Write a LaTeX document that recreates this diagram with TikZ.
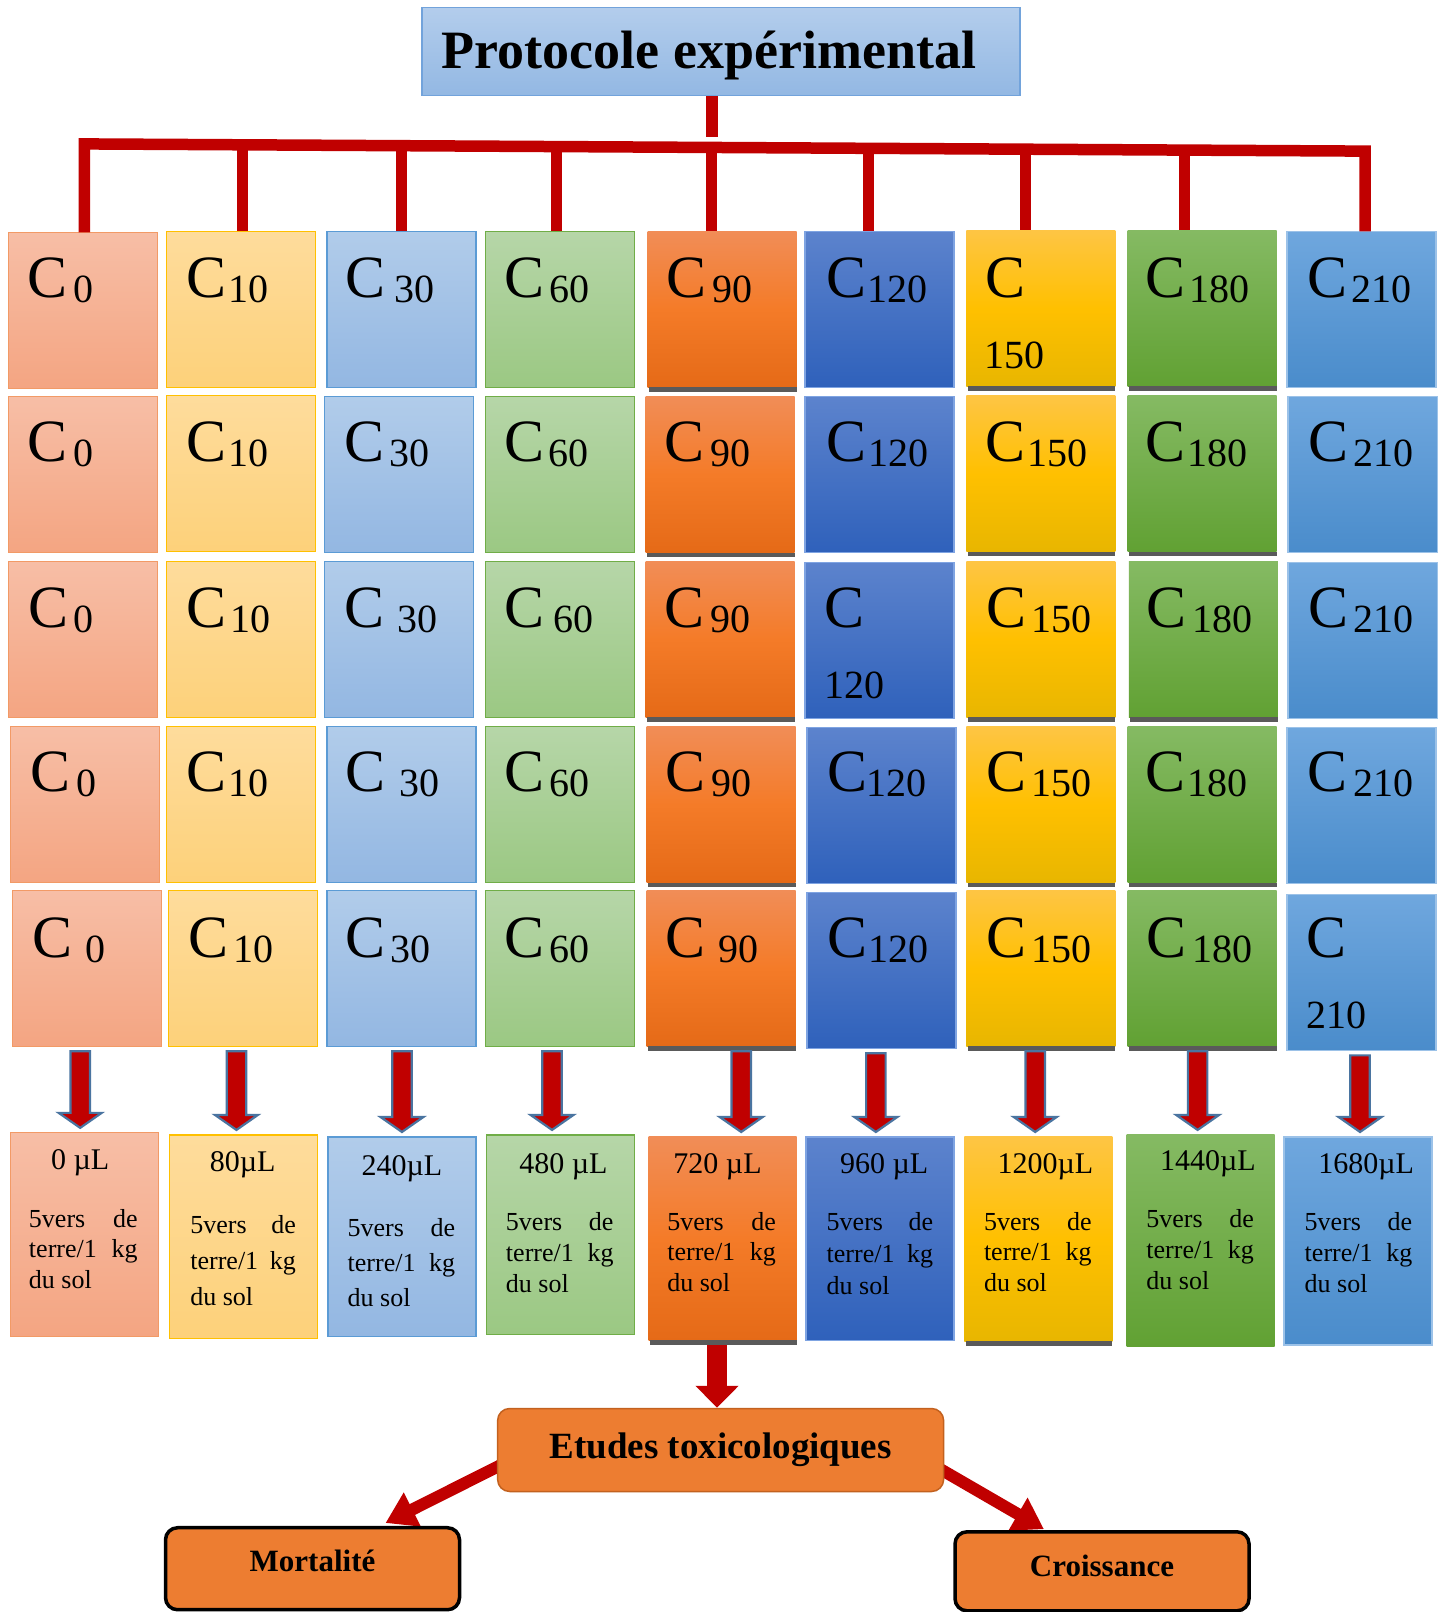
\documentclass[tikz,border=0pt]{standalone}
\usepackage{fontspec}
\setmainfont{Liberation Serif}
\usetikzlibrary{arrows.meta,calc,backgrounds}
\definecolor{redL}{HTML}{C00000}
\definecolor{steel}{HTML}{4A74A0}
\definecolor{shadowc}{HTML}{5A5A5A}
\definecolor{titlet}{HTML}{B3CDEC}
\definecolor{titleb}{HTML}{93B8E3}
\definecolor{titled}{HTML}{72A3DB}
\definecolor{orangeE}{HTML}{ED7D31}
\definecolor{orangeD}{HTML}{C3611F}
\definecolor{c0t}{HTML}{F7BEA6}\definecolor{c0b}{HTML}{F4A582}\definecolor{c0d}{HTML}{F29A66}
\definecolor{c1t}{HTML}{FEDC9C}\definecolor{c1b}{HTML}{FDD17A}\definecolor{c1d}{HTML}{FFC000}
\definecolor{c2t}{HTML}{B1CCEA}\definecolor{c2b}{HTML}{93B7E2}\definecolor{c2d}{HTML}{5B9BD5}
\definecolor{c3t}{HTML}{B6D6A8}\definecolor{c3b}{HTML}{9BC883}\definecolor{c3d}{HTML}{70AD47}
\definecolor{c4t}{HTML}{F18D57}\definecolor{c4m}{HTML}{F47B28}\definecolor{c4b}{HTML}{E56A17}
\definecolor{c5t}{HTML}{5C83CD}\definecolor{c5b}{HTML}{2F61BB}\definecolor{c5d}{HTML}{7FA4E2}
\definecolor{c6t}{HTML}{FEC544}\definecolor{c6m}{HTML}{FFC000}\definecolor{c6b}{HTML}{E8B600}
\definecolor{c7t}{HTML}{85BA63}\definecolor{c7b}{HTML}{61A133}
\definecolor{c8t}{HTML}{6FA7DE}\definecolor{c8b}{HTML}{4A8CCB}\definecolor{c8d}{HTML}{9CC2E8}
\newcommand\cel[4]{\node[cellbase,#4] (#1) at (#2,#3) {};}
\newcommand\celS[4]{\node[cellbase,#4] (#1) at (#2,#3) {};
  \fill[shadowc] ([xshift=1.5pt]#1.south west) rectangle ([yshift=-4.5pt]#1.south east);}
\newcommand\clab[5]{\node[lblC] (#1C) at (#2,#4) {C};\node[lblN] (#1N) at (#3,#4+5) {#5};}
\newcommand\clabw[5]{\node[lblC] (#1C) at (#2,#4) {C};\node[lblN] (#1N) at (#3,#4+69) {#5};}
\newcommand\dose[8]{%
  \node[doselbl] (#1L) at (#2,#3) {#4};
  \node[dosetxt,anchor=base west] (#1a) at (#5,#7) {5vers};
  \node[dosetxt,anchor=base east] (#1b) at (#6,#7) {de};
  \node[dosetxt,anchor=base west] (#1c) at (#5,#7+#8) {terre/1};
  \node[dosetxt,anchor=base east] (#1d) at (#6,#7+#8) {kg};
  \node[dosetxt,anchor=base west] (#1e) at (#5,#7+2*#8) {du sol};}
\newcommand\blk[3]{%
  \draw[blockarr] let \p1=(#1.south -| #3), \p2=(#2.north -| #3) in
   (\x1-9.75pt,\y1-5pt) -- (\x1+9.75pt,\y1-5pt) -- (\x1+9.75pt,\y2+20pt) -- (\x1+21.5pt,\y2+20pt)
   -- (\x1,\y2+5pt) -- (\x1-21.5pt,\y2+20pt) -- (\x1-9.75pt,\y2+20pt) -- cycle;}
\begin{document}
\begin{tikzpicture}[x=1.028pt,y=-1.028pt,
  cellbase/.style={rectangle,inner sep=0pt,outer sep=0pt,anchor=north west,
    minimum width=149pt,minimum height=156pt,line width=1.2pt},
  doseb/.style={cellbase,minimum width=148pt},
  k0/.style={top color=c0t,bottom color=c0b,draw=c0d},
  k1/.style={top color=c1t,bottom color=c1b,draw=c1d},
  k2/.style={top color=c2t,bottom color=c2b,draw=c2d},
  k3/.style={top color=c3t,bottom color=c3b,draw=c3d},
  k4/.style={top color=c4t,bottom color=c4b,middle color=c4m},
  k5/.style={top color=c5t,bottom color=c5b,draw=c5d},
  k6/.style={top color=c6t,bottom color=c6b,middle color=c6m},
  k7/.style={top color=c7t,bottom color=c7b},
  k8/.style={top color=c8t,bottom color=c8b,draw=c8d},
  lblC/.style={anchor=base west,inner sep=0pt,font=\fontsize{60}{60}\selectfont},
  lblN/.style={anchor=base west,inner sep=0pt,font=\fontsize{40}{40}\selectfont},
  doselbl/.style={anchor=base,inner sep=0pt,font=\fontsize{30}{30}\selectfont},
  dosetxt/.style={inner sep=0pt,font=\fontsize{26}{26}\selectfont},
  redline/.style={draw=redL,line width=11.5pt,line join=miter,line cap=butt},
  blockarr/.style={fill=redL,draw=steel,line width=2.2pt,line join=miter},
  redarrow/.style={draw=redL,line width=12pt,-{Triangle[length=30pt,width=36pt]}},
  bigarrow/.style={draw=redL,line width=20pt,-{Triangle[length=22pt,width=42pt]}},
  etud/.style={rectangle,rounded corners=12pt,fill=orangeE,draw=orangeD,line width=1.5pt,
    minimum width=446pt,minimum height=83pt,inner sep=0pt,font=\fontsize{37}{37}\selectfont\bfseries},
  res/.style={rectangle,rounded corners=12pt,fill=orangeE,draw=black,line width=3.5pt,
    minimum width=294pt,inner sep=0pt},
  restxt/.style={anchor=base,inner sep=0pt,font=\fontsize{31}{31}\selectfont\bfseries}]
\useasboundingbox (0,0) rectangle (1402.7,1568.1);

% title
\node[rectangle,anchor=north west,inner sep=0pt,minimum width=598pt,minimum height=87.4pt,
  top color=titlet,bottom color=titleb,draw=titled,line width=1.2pt] (title) at (410,7) {};
\node[anchor=base west,inner sep=0pt,font=\fontsize{54}{54}\selectfont\bfseries] (ttxt) at (429.5,66.5) {Protocole expérimental};

% row 1
\cel{r1c0}{8}{226}{k0}\cel{r1c1}{162}{225}{k1}\cel{r1c2}{318}{225}{k2}\cel{r1c3}{472}{225}{k3}
\celS{r1c4}{630}{225}{k4}\cel{r1c5}{783}{225}{k5}\celS{r1c6}{940}{224}{k6}\celS{r1c7}{1097}{224}{k7}\cel{r1c8}{1252}{225}{k8}
% row 2
\cel{r2c0}{8}{386}{k0}\cel{r2c1}{162}{385}{k1}\cel{r2c2}{316}{386}{k2}\cel{r2c3}{472}{386}{k3}
\celS{r2c4}{628}{386}{k4}\cel{r2c5}{783}{386}{k5}\celS{r2c6}{940}{385}{k6}\celS{r2c7}{1097}{385}{k7}\cel{r2c8}{1253}{386}{k8}
% row 3
\cel{r3c0}{8}{546}{k0}\cel{r3c1}{162}{546}{k1}\cel{r3c2}{316}{546}{k2}\cel{r3c3}{472}{546}{k3}
\celS{r3c4}{628}{546}{k4}\cel{r3c5}{783}{547}{k5}\celS{r3c6}{940}{546}{k6}\celS{r3c7}{1098}{546}{k7}\cel{r3c8}{1253}{547}{k8}
% row 4
\cel{r4c0}{10}{707}{k0}\cel{r4c1}{162}{707}{k1}\cel{r4c2}{318}{707}{k2}\cel{r4c3}{472}{707}{k3}
\celS{r4c4}{629}{707}{k4}\cel{r4c5}{785}{708}{k5}\celS{r4c6}{940}{707}{k6}\celS{r4c7}{1097}{707}{k7}\cel{r4c8}{1252}{708}{k8}
% row 5
\cel{r5c0}{12}{866}{k0}\cel{r5c1}{164}{866}{k1}\cel{r5c2}{318}{866}{k2}\cel{r5c3}{472}{866}{k3}
\celS{r5c4}{629}{866}{k4}\cel{r5c5}{785}{868}{k5}\celS{r5c6}{940}{866}{k6}\celS{r5c7}{1097}{866}{k7}\cel{r5c8}{1252}{870}{k8}

% labels row 1
\clab{r1c0}{26.3}{71.5}{289}{0}\clab{r1c1}{181.3}{222.5}{289}{10}\clab{r1c2}{336.3}{383.5}{289}{30}
\clab{r1c3}{490.3}{534.5}{289}{60}\clab{r1c4}{648.3}{692.5}{289}{90}\clab{r1c5}{803.3}{843.5}{289}{120}
\clabw{r1c6}{958.3}{957.5}{289}{150}\clab{r1c7}{1114.3}{1156.5}{289}{180}\clab{r1c8}{1271.3}{1314.5}{289}{210}
% labels row 2
\clab{r2c0}{26.3}{71.5}{449}{0}\clab{r2c1}{181.3}{222.5}{449}{10}\clab{r2c2}{335.3}{378.5}{449}{30}
\clab{r2c3}{490.3}{533.5}{449}{60}\clab{r2c4}{646.3}{690.5}{449}{90}\clab{r2c5}{803.3}{844.5}{449}{120}
\clab{r2c6}{958.3}{999.5}{449}{150}\clab{r2c7}{1114.3}{1154.5}{449}{180}\clab{r2c8}{1272.3}{1316.5}{449}{210}
% labels row 3
\clab{r3c0}{27.3}{71.5}{610}{0}\clab{r3c1}{181.3}{224.5}{610}{10}\clab{r3c2}{335.3}{386.5}{610}{30}
\clab{r3c3}{490.3}{538.5}{610}{60}\clab{r3c4}{646.3}{690.5}{610}{90}\clabw{r3c5}{802.3}{801.5}{610}{120}
\clab{r3c6}{959.3}{1003.5}{610}{150}\clab{r3c7}{1115.3}{1159.5}{610}{180}\clab{r3c8}{1272.3}{1316.5}{610}{210}
% labels row 4
\clab{r4c0}{29.3}{74.5}{770}{0}\clab{r4c1}{181.3}{222.5}{770}{10}\clab{r4c2}{336.3}{388.5}{770}{30}
\clab{r4c3}{490.3}{534.5}{770}{60}\clab{r4c4}{647.3}{691.5}{770}{90}\clab{r4c5}{804.3}{842.5}{770}{120}
\clab{r4c6}{959.3}{1003.5}{770}{150}\clab{r4c7}{1114.3}{1154.5}{770}{180}\clab{r4c8}{1271.3}{1316.5}{770}{210}
% labels row 5
\clab{r5c0}{31.3}{82.5}{931}{0}\clab{r5c1}{183.3}{226.5}{931}{10}\clab{r5c2}{336.3}{379.5}{931}{30}
\clab{r5c3}{490.3}{534.5}{931}{60}\clab{r5c4}{647.3}{698.5}{931}{90}\clab{r5c5}{804.3}{844.5}{931}{120}
\clab{r5c6}{959.3}{1003.5}{931}{150}\clab{r5c7}{1115.3}{1159.5}{931}{180}\clabw{r5c8}{1270.3}{1270.5}{931}{210}

% tree
\coordinate (t0) at (82,140);
\coordinate (t1) at (236,140.87);
\coordinate (t2) at (391,141.74);
\coordinate (t3) at (541,142.58);
\coordinate (t4) at (692,143.43);
\coordinate (t5) at (845,144.29);
\coordinate (t6) at (998,145.15);
\coordinate (t7) at (1152,146.01);
\coordinate (t8) at (1328,147);
\coordinate (stemEnd) at (692.5,133.5);
\draw[redline,line width=12pt] (title.south -| stemEnd) -- (stemEnd);
\draw[redline] (r1c0.north -| t0) -- (t0) -- (t8) -- (r1c8.north -| t8);
\foreach \i in {1,...,7}{\draw[redline,line width=11pt] (t\i) -- (r1c\i.north -| t\i);}

% dose boxes
\node[doseb,k0,minimum height=203.5pt] (q0) at (10,1102) {};
\node[doseb,k1,minimum height=203.5pt] (q1) at (165,1104) {};
\node[doseb,k2,minimum height=199.5pt] (q2) at (319,1106) {};
\node[doseb,k3,minimum height=199.5pt] (q3) at (473,1104) {};
\node[doseb,k4,minimum height=203.5pt] (q4) at (631,1106) {};
\fill[shadowc] ([xshift=1.5pt]q4.south west) rectangle ([yshift=-4.5pt]q4.south east);
\node[doseb,k5,minimum height=203.5pt] (q5) at (784,1106) {};
\node[doseb,k6,minimum height=204.5pt] (q6) at (938,1106) {};
\fill[shadowc] ([xshift=1.5pt]q6.south west) rectangle ([yshift=-4.5pt]q6.south east);
\node[doseb,k7,minimum height=212pt] (q7) at (1096,1104) {};
\node[doseb,k8,minimum height=208pt] (q8) at (1249,1106) {};

\dose{q0}{78}{1138}{0 µL}{28}{134}{1194}{29.5}
\dose{q1}{236}{1140}{80µL}{185}{288}{1200}{35}
\dose{q2}{391}{1143}{240µL}{338}{443}{1203}{34}
\dose{q3}{548}{1142}{480 µL}{492}{597}{1197}{30}
\dose{q4}{698}{1142}{720 µL}{649}{755}{1197}{29.5}
\dose{q5}{860}{1142}{960 µL}{804}{908}{1197}{31}
\dose{q6}{1017}{1142}{1200µL}{957}{1062}{1197}{29.5}
\dose{q7}{1175}{1139}{1440µL}{1115}{1220}{1194}{30}
\dose{q8}{1329}{1142}{1680µL}{1269}{1374}{1197}{30}

% block arrows
\coordinate (b0) at (78,0);\coordinate (b1) at (230,0);\coordinate (b2) at (391,0);
\coordinate (b3) at (537,0);\coordinate (b4) at (721,0);\coordinate (b5) at (852,0);
\coordinate (b6) at (1007,0);\coordinate (b7) at (1165,0);\coordinate (b8) at (1323,0);
\foreach \i in {0,...,8}{\blk{r5c\i}{q\i}{b\i}}

% lower part
\node[etud] (etudes) at (701,1410.5) {Etudes toxicologiques};
\node[res,minimum height=82pt] (mort) at (304,1526) {};
\node[restxt] (morttxt) at (304,1529) {Mortalité};
\node[res,minimum height=79pt] (croi) at (1072,1528.5) {};
\node[restxt] (croitxt) at (1072,1534) {Croissance};
\coordinate (ax) at (697.5,0);
\coordinate (mtip) at (375,1481.5);
\coordinate (ctip) at (1015.5,1487.5);
\begin{pgfonlayer}{background}
\fill[white] (0,0) rectangle (1402.7,1568.1);
\draw[bigarrow] (q4.south -| ax) -- (etudes.north -| ax);
\draw[redarrow] ([xshift=6pt,yshift=-14pt]etudes.west) -- (mtip);
\draw[redarrow] ([xshift=-6pt,yshift=-18pt]etudes.east) -- (ctip);
\end{pgfonlayer}
\end{tikzpicture}
\end{document}
